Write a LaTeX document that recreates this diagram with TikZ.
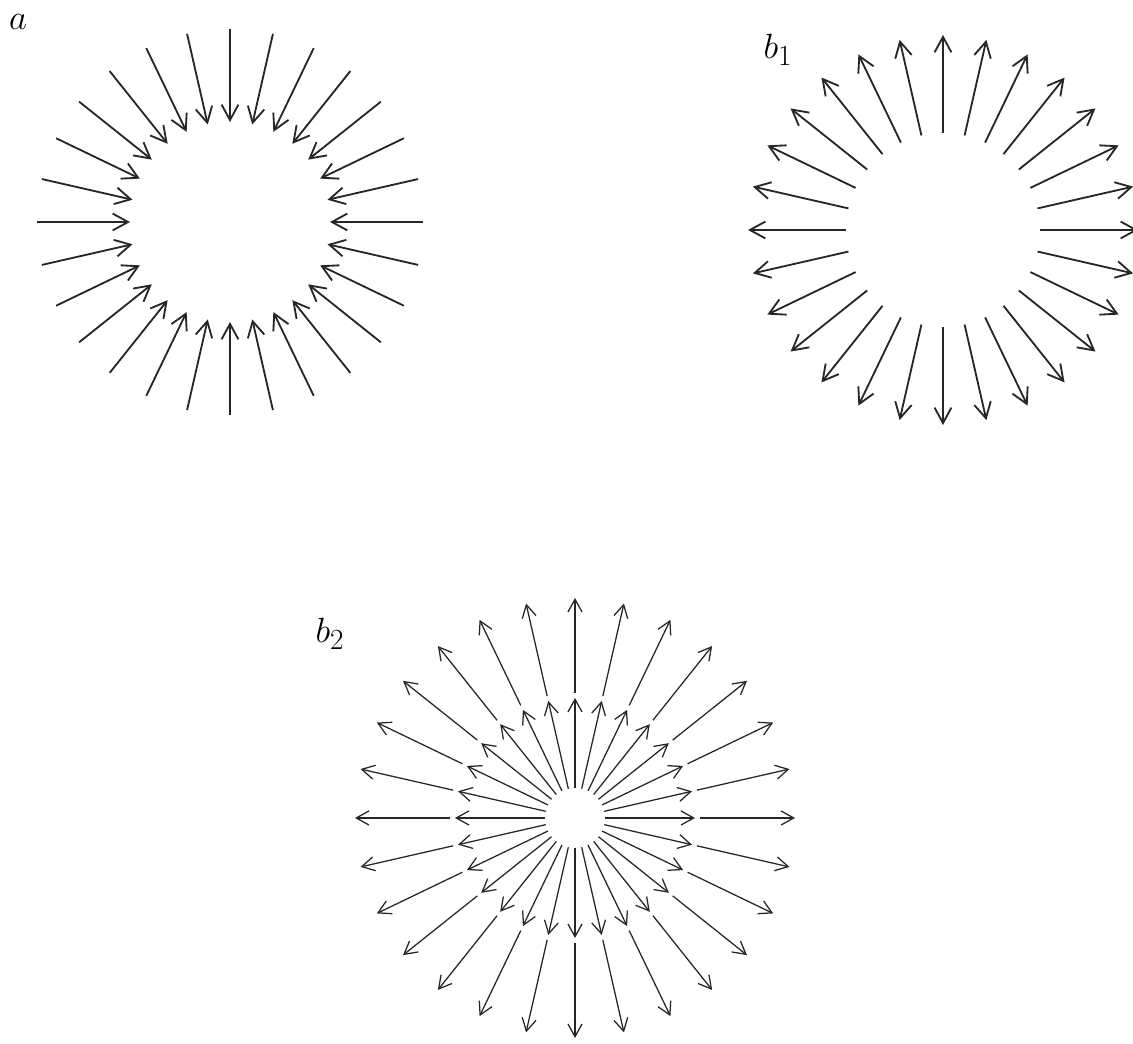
\documentclass[tikz,border=0pt]{standalone}
\usetikzlibrary{arrows.meta}
\begin{document}
\begin{tikzpicture}[x=0.025cm, y=0.025cm,
  ray/.style={draw=black!85, line width=1.3pt, -{Straight Barb[length=11pt,width=12pt]}},
  thinray/.style={ray, line width=0.9pt, -{Straight Barb[length=9pt,width=10pt]}},
  tag/.style={font=\fontsize{30}{32}\selectfont, inner sep=0pt}]
	\useasboundingbox (0,0) rectangle (1133,1044);
	\coordinate (ca) at (230,822);
	\coordinate (cb1) at (943,814);
	\coordinate (cb2) at (575,226);
	\node[tag] (la) at (18,1022) {$a$};
	\node[tag] (lb1) at (778,994) {$b_1$};
	\node[tag] (lb2) at (330,410) {$b_2$};
	\foreach \i [evaluate=\i as \ang using \i*360/28] in {0,...,27} {
		\coordinate (a-out-\i) at ([shift={(\ang:193)}]ca);
		\coordinate (a-in-\i) at ([shift={(\ang:100)}]ca);
		\draw[ray] (a-out-\i) -- (a-in-\i);
		\coordinate (b1-in-\i) at ([shift={(\ang:97)}]cb1);
		\coordinate (b1-out-\i) at ([shift={(\ang:195)}]cb1);
		\draw[ray] (b1-in-\i) -- (b1-out-\i);
		\coordinate (b2-in-\i) at ([shift={(\ang:30)}]cb2);
		\coordinate (b2-mid-\i) at ([shift={(\ang:120)}]cb2);
		\coordinate (b2-gap-\i) at ([shift={(\ang:125)}]cb2);
		\coordinate (b2-out-\i) at ([shift={(\ang:220)}]cb2);
		\draw[thinray] (b2-in-\i) -- (b2-mid-\i);
		\draw[thinray] (b2-gap-\i) -- (b2-out-\i);
	}
\end{tikzpicture}
\end{document}
